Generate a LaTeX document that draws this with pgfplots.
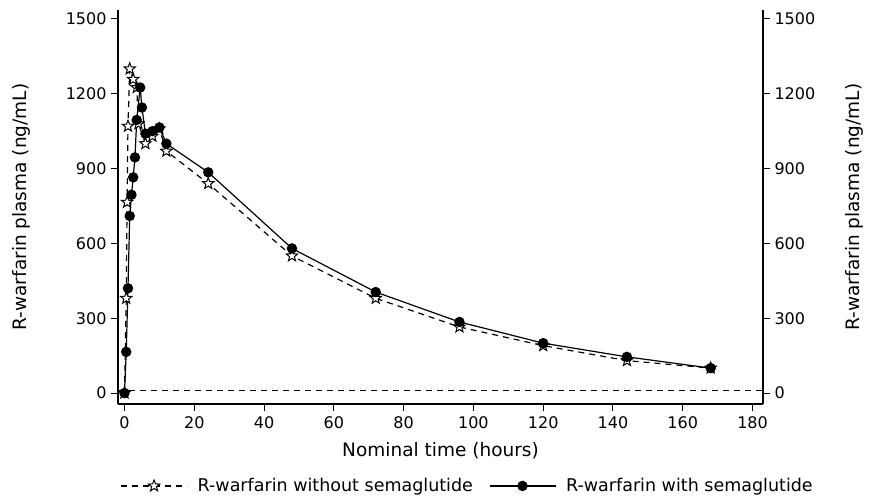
\documentclass[border=0pt]{standalone}
\usepackage{fontspec}
\setmainfont{DejaVu Sans}
\usepackage{pgfplots}
\pgfplotsset{compat=1.18}
\pgfdeclareplotmark{fivestar}{%
  \pgfpathmoveto{\pgfpointpolar{90}{\pgfplotmarksize}}%
  \pgfpathlineto{\pgfpointpolar{126}{0.42\pgfplotmarksize}}%
  \pgfpathlineto{\pgfpointpolar{162}{\pgfplotmarksize}}%
  \pgfpathlineto{\pgfpointpolar{198}{0.42\pgfplotmarksize}}%
  \pgfpathlineto{\pgfpointpolar{234}{\pgfplotmarksize}}%
  \pgfpathlineto{\pgfpointpolar{270}{0.42\pgfplotmarksize}}%
  \pgfpathlineto{\pgfpointpolar{306}{\pgfplotmarksize}}%
  \pgfpathlineto{\pgfpointpolar{342}{0.42\pgfplotmarksize}}%
  \pgfpathlineto{\pgfpointpolar{18}{\pgfplotmarksize}}%
  \pgfpathlineto{\pgfpointpolar{54}{0.42\pgfplotmarksize}}%
  \pgfpathclose
  \pgfusepathqfillstroke}
\newcommand\tkfont{\fontsize{16bp}{18bp}\selectfont}
\begin{document}
\begin{tikzpicture}
\pgfplotsset{
  common/.style={
    width=645bp, height=394bp, scale only axis,
    xmin=-1.86, xmax=183, ymin=-44, ymax=1536,
    ytick={0,300,...,1500},
    tick align=outside, major tick length=7bp,
    tick style={black, line width=1bp},
    /pgf/number format/assume math mode=true,
    /pgf/number format/1000 sep={},
    xticklabel={\tkfont\pgfmathprintnumber[assume math mode=true,1000 sep={}]{\tick}},
    yticklabel={\tkfont\pgfmathprintnumber[assume math mode=true,1000 sep={}]{\tick}},
    label style={font=\fontsize{18.5bp}{21bp}\selectfont},
    axis line style={line width=1.1bp},
  }
}
\begin{axis}[common, name=main,
  axis y line*=left, axis x line*=bottom,
  xtick={0,20,...,180},
  yticklabel style={xshift=-1bp},
  xticklabel style={yshift=-2bp},
  xlabel={Nominal time (hours)},
  ylabel={R-warfarin plasma (ng/mL)},
  xlabel style={at={(axis description cs:0.5,-0.118)}, anchor=center},
  ylabel style={at={(axis description cs:-0.149,0.5)}, anchor=center},
  clip=false,
  legend style={at={(axis description cs:0.542,-0.208)}, anchor=center, draw=none, fill=none,
    legend columns=2, font=\fontsize{17.5bp}{20bp}\selectfont,
    /tikz/every odd column/.append style={column sep=8bp},
    /tikz/every even column/.append style={column sep=14bp}},
  legend image code/.code={%
    \draw[mark repeat=2,mark phase=2,#1] plot coordinates {(0bp,0bp) (33bp,0bp) (66bp,0bp)};},
]
\addplot[black, line width=1.2bp, dash pattern=on 6bp off 5bp, mark=fivestar, mark size=6bp,
  mark options={solid, fill=white, line width=1bp}] coordinates {
(0,0) (0.5,380) (0.75,765) (1,1070) (1.5,1300) (2.5,1258) (3.5,1225) (4,1080)
(6,1000) (8,1030) (10,1060) (12,970) (24,840) (48,550) (72,380) (96,265)
(120,190) (144,130) (168,100)};
\addlegendentry{R-warfarin without semaglutide}
\addplot[black, line width=1.2bp, mark=*, mark size=4.6bp,
  mark options={solid, fill=black}] coordinates {
(0,0) (0.5,165) (1,420) (1.5,710) (2,795) (2.5,865) (3,945) (3.5,1095)
(4.5,1225) (5,1145) (6,1040) (8,1050) (10,1065) (12,1000) (24,885) (48,580)
(72,405) (96,285) (120,200) (144,145) (168,100)};
\addlegendentry{R-warfarin with semaglutide}
\addplot[black, line width=1.2bp, dash pattern=on 6bp off 5bp, forget plot] coordinates {(-1.86,10) (183,10)};
\end{axis}
\begin{axis}[common,
  axis y line*=right, axis x line=none,
  yticklabel style={xshift=1bp},
  ylabel={R-warfarin plasma (ng/mL)},
  ylabel style={at={(axis description cs:1.142,0.5)}, anchor=center},
]
\addplot[draw=none] coordinates {(0,0)};
\end{axis}
\pgfresetboundingbox
\path ([shift={(-118bp,-100bp)}]main.south west) rectangle ([shift={(108bp,10bp)}]main.north east);
\end{tikzpicture}
\end{document}
